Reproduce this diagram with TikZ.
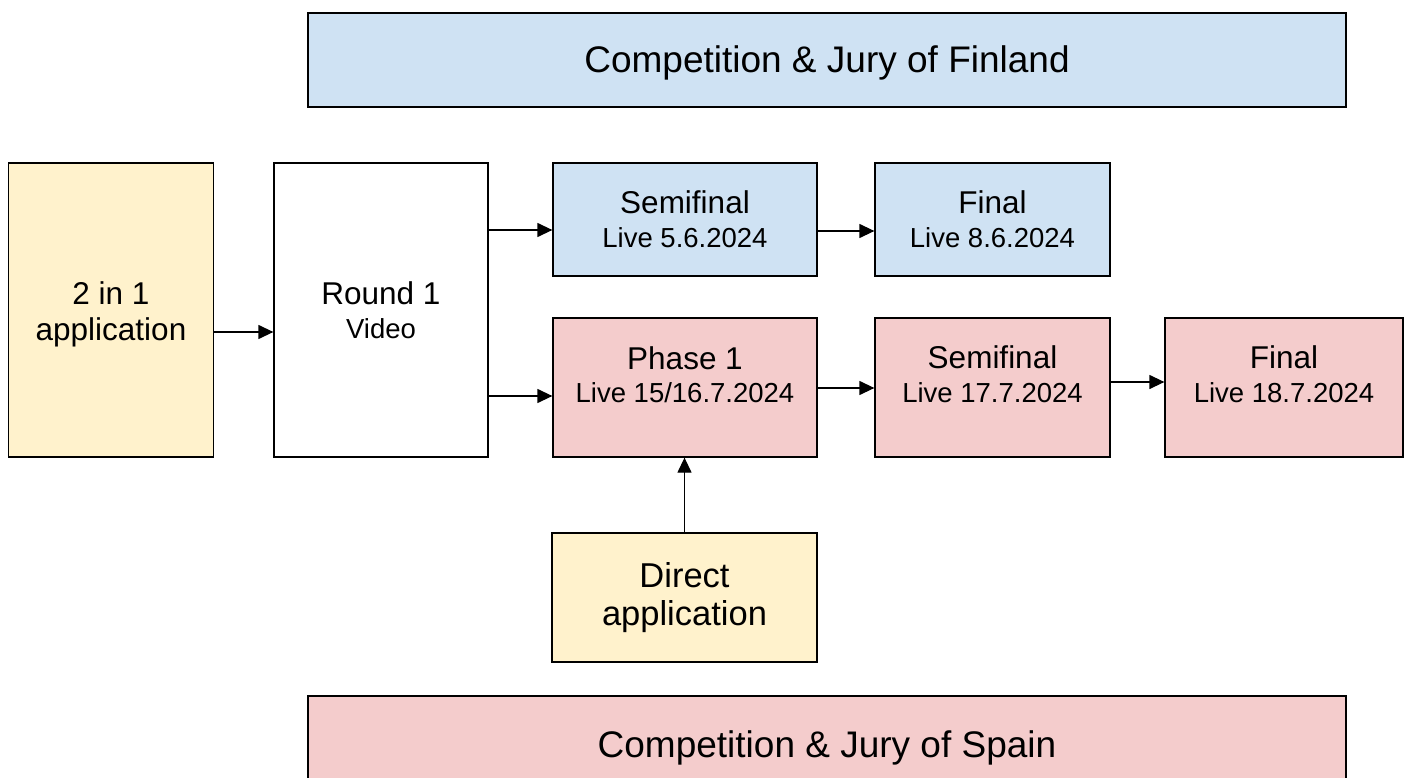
\documentclass[tikz,border=0pt]{standalone}
\usepackage{fontspec}
\setmainfont{Liberation Sans}
\usetikzlibrary{arrows.meta,calc}
\definecolor{fiblue}{HTML}{CFE2F3}
\definecolor{espink}{HTML}{F4CCCC}
\definecolor{appyel}{HTML}{FFF2CC}
\tikzset{
  box/.style={draw=black, line width=1.3pt, rectangle, inner sep=0pt},
  bigbox/.style={draw=black, line width=1.6pt, rectangle, inner sep=0pt},
  arr/.style={line width=1.3pt, -{Triangle[length=15pt,width=14pt]}},
  ttl/.style={anchor=base, inner sep=0pt, font=\fontsize{31.5}{36}\selectfont},
  sub/.style={anchor=base, inner sep=0pt, font=\fontsize{27.5}{32}\selectfont},
  big/.style={anchor=base, inner sep=0pt, font=\fontsize{37}{42}\selectfont},
  dirt/.style={anchor=base, inner sep=0pt, font=\fontsize{34.5}{40}\selectfont},
}
\begin{document}
\begin{tikzpicture}[x=1pt,y=-1pt]
\clip (0,0) rectangle (1410,778);
\fill[white] (0,0) rectangle (1410,778);
% boxes
\node[bigbox, fill=fiblue, minimum width=1038pt, minimum height=94pt] (fin) at (827,60) {};
\node[bigbox, fill=espink, minimum width=1038pt, minimum height=94pt] (esp) at (827,743) {};
\node[box, fill=appyel, minimum width=205pt, minimum height=294pt] (app) at (111,310) {};
\node[box, fill=white, minimum width=214pt, minimum height=294pt] (r1) at (381,310) {};
\node[box, fill=fiblue, minimum width=264pt, minimum height=113pt] (sfB) at (685,219.5) {};
\node[box, fill=fiblue, minimum width=235pt, minimum height=113pt] (fB) at (992.5,219.5) {};
\node[box, fill=espink, minimum width=264pt, minimum height=139pt] (p1) at (685,387.5) {};
\node[box, fill=espink, minimum width=235pt, minimum height=139pt] (sfR) at (992.5,387.5) {};
\node[box, fill=espink, minimum width=238pt, minimum height=139pt] (fR) at (1284,387.5) {};
\node[box, fill=appyel, minimum width=265pt, minimum height=129pt] (dir) at (684.5,597.5) {};
% texts
\node[big] (tfin) at (827,73) {Competition \& Jury of Finland};
\node[big] (tesp) at (827,757) {Competition \& Jury of Spain};
\node[ttl] (tapp1) at (111,304) {2 in 1};
\node[ttl] (tapp2) at (111,340) {application};
\node[ttl] (tr1a) at (381,304) {Round 1};
\node[sub] (tr1b) at (381,338) {Video};
\node[ttl] (tsfBa) at (685,213) {Semifinal};
\node[sub] (tsfBb) at (685,247) {Live 5.6.2024};
\node[ttl] (tfBa) at (992.5,213) {Final};
\node[sub] (tfBb) at (992.5,247) {Live 8.6.2024};
\node[ttl] (tp1a) at (685,369) {Phase 1};
\node[sub] (tp1b) at (685,402) {Live 15/16.7.2024};
\node[ttl] (tsfRa) at (992.5,368) {Semifinal};
\node[sub] (tsfRb) at (992.5,402) {Live 17.7.2024};
\node[ttl] (tfRa) at (1284,368) {Final};
\node[sub] (tfRb) at (1284,402) {Live 18.7.2024};
\node[dirt] (tdira) at (684.5,587) {Direct};
\node[dirt] (tdirb) at (684.5,625) {application};
% connectors
\draw[arr] ($(app.east)+(0,22)$) -- ($(r1.west)+(0,22)$);
\draw[arr] ($(r1.east)+(0,-80)$) -- ($(sfB.west)+(0,10.5)$);
\draw[arr] ($(r1.east)+(0,86)$) -- ($(p1.west)+(0,8.5)$);
\draw[arr] ($(sfB.east)+(0,11.5)$) -- ($(fB.west)+(0,11.5)$);
\draw[arr] ($(p1.east)+(0,0.5)$) -- ($(sfR.west)+(0,0.5)$);
\draw[arr] ($(sfR.east)+(0,-5.5)$) -- ($(fR.west)+(0,-5.5)$);
\draw[arr] (dir.north) -- (dir.north |- p1.south);
\end{tikzpicture}
\end{document}
